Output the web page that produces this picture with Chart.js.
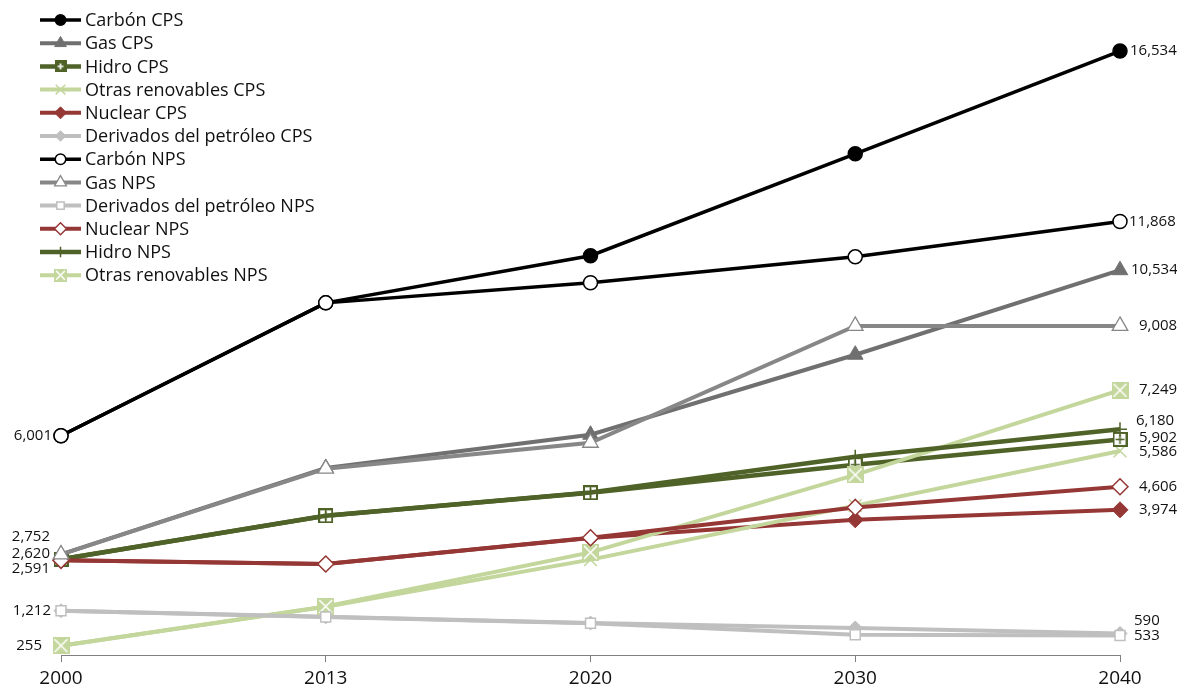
<!DOCTYPE html>
<html>
<head>
<meta charset="utf-8">
<script src="https://cdn.jsdelivr.net/npm/chart.js@4/dist/chart.umd.min.js"></script>
<style>
  html, body { margin: 0; padding: 0; background: #fff; }
  #wrap { width: 1177px; height: 689px; position: relative; }
</style>
</head>
<body>
<div id="wrap"><canvas id="c"></canvas></div>
<script>
// ---- Data ----
const categories = ['2000', '2013', '2020', '2030', '2040'];
const carbonCPS   = [6001, 9640, 10930, 13720, 16534];
const gasCPS      = [2752, 5120, 6030, 8220, 10534];
const hidroCPS    = [2620, 3810, 4440, 5210, 5902];
const otrasCPS    = [255, 1320, 2610, 4090, 5586];
const nuclearCPS  = [2591, 2490, 3200, 3700, 3974];
const derivCPS    = [1212, 1045, 875, 740, 590];
const carbonNPS   = [6001, 9640, 10190, 10900, 11868];
const gasNPS      = [2752, 5100, 5810, 9008, 9008];
const derivNPS    = [1212, 1040, 870, 555, 533];
const nuclearNPS  = [2591, 2490, 3210, 4040, 4606];
const hidroNPS    = [2620, 3810, 4450, 5430, 6180];
const otrasNPS    = [255, 1330, 2810, 4930, 7249];

const seriesNames = [
  'Carbón CPS', 'Gas CPS', 'Hidro CPS', 'Otras renovables CPS', 'Nuclear CPS',
  'Derivados del petróleo CPS', 'Carbón NPS', 'Gas NPS', 'Derivados del petróleo NPS',
  'Nuclear NPS', 'Hidro NPS', 'Otras renovables NPS'
];

// ---- Styles ----
const C_BLACK = '#000000', C_GAS = '#707070', C_GAS2 = '#878787', C_HID = '#4f6228',
      C_OTR = '#c3d69b', C_NUC = '#953735', C_DER = '#bfbfbf';

function makeBoxPlus(size, color, filled) {
  const c = document.createElement('canvas'); c.width = size; c.height = size;
  const x = c.getContext('2d');
  x.fillStyle = filled ? color : '#fff'; x.fillRect(0, 0, size, size);
  x.strokeStyle = color; x.lineWidth = 2;
  x.strokeRect(1, 1, size - 2, size - 2);
  x.strokeStyle = filled ? '#fff' : color;
  x.lineWidth = 1.6;
  x.beginPath(); x.moveTo(size / 2, 3); x.lineTo(size / 2, size - 3);
  x.moveTo(3, size / 2); x.lineTo(size - 3, size / 2); x.stroke();
  return c;
}
function makeBoxX(size, color) {
  const c = document.createElement('canvas'); c.width = size; c.height = size;
  const x = c.getContext('2d');
  x.fillStyle = color; x.fillRect(0, 0, size, size);
  x.strokeStyle = '#fff'; x.lineWidth = 1.6;
  x.beginPath(); x.moveTo(2, 2); x.lineTo(size - 2, size - 2);
  x.moveTo(size - 2, 2); x.lineTo(2, size - 2); x.stroke();
  return c;
}
const boxPlus = makeBoxPlus(15, C_HID, false);
const boxPlusLegend = makeBoxPlus(12, C_HID, true);
const boxX = makeBoxX(17, C_OTR);
const boxXLegend = makeBoxX(13, C_OTR);

function ds(label, data, color, width, style, radius, fill, pbColor, pbWidth, order) {
  return {
    label, data, borderColor: color, backgroundColor: color, borderWidth: width,
    pointStyle: style, pointRadius: radius, pointHoverRadius: radius,
    pointBackgroundColor: fill, pointBorderColor: pbColor, pointBorderWidth: pbWidth,
    tension: 0, fill: false, order
  };
}

const datasets = [
  ds(seriesNames[0], carbonCPS, C_BLACK, 3.5, 'circle', 7, C_BLACK, C_BLACK, 1.5, 2),
  ds(seriesNames[1], gasCPS, C_GAS, 4, 'triangle', 9, C_GAS, C_GAS, 1, 2),
  ds(seriesNames[2], hidroCPS, C_HID, 4.5, boxPlus, 7, C_HID, C_HID, 1, 2),
  ds(seriesNames[3], otrasCPS, C_OTR, 4, 'crossRot', 9, C_OTR, C_OTR, 1.5, 2),
  ds(seriesNames[4], nuclearCPS, C_NUC, 4, 'rectRot', 8, C_NUC, C_NUC, 1, 2),
  ds(seriesNames[5], derivCPS, C_DER, 4, 'rectRot', 7, C_DER, C_DER, 1, 2),
  ds(seriesNames[6], carbonNPS, C_BLACK, 3.5, 'circle', 7, '#ffffff', C_BLACK, 1.5, 1),
  ds(seriesNames[7], gasNPS, C_GAS2, 4, 'triangle', 9, '#ffffff', C_GAS2, 1.3, 1),
  ds(seriesNames[8], derivNPS, C_DER, 4, 'rect', 7, '#ffffff', C_DER, 1.5, 1),
  ds(seriesNames[9], nuclearNPS, C_NUC, 4, 'rectRot', 8, '#ffffff', C_NUC, 1.5, 1),
  ds(seriesNames[10], hidroNPS, C_HID, 4.5, 'cross', 7, C_HID, C_HID, 1.5, 1),
  ds(seriesNames[11], otrasNPS, C_OTR, 4, boxX, 8, C_OTR, C_OTR, 1, 1)
];
const legendImages = { 2: boxPlusLegend, 11: boxXLegend };

// Label placement (style only): dataset index -> [dx, dy]
const leftLabelOffsets = { 0: [-9, 0], 1: [-11, -18], 2: [-11, -6], 4: [-11, 8], 5: [-10, 0], 3: [-19, 0] };
const rightLabelOffsets = {
  0: [10, 0], 6: [9, 0], 1: [11, 0], 7: [19, 0], 11: [19, 0], 10: [16, -9],
  2: [19, -2], 3: [19, 1], 9: [19, 0], 4: [19, 0], 5: [14, -13], 8: [14, 0]
};

const FONT = '"Open Sans", "DejaVu Sans", sans-serif';

const valueLabels = {
  id: 'valueLabels',
  afterDatasetsDraw(chart) {
    const ctx = chart.ctx;
    ctx.save();
    ctx.font = '15px ' + FONT;
    ctx.fillStyle = '#111';
    ctx.textBaseline = 'middle';
    const fmt = v => v.toLocaleString('en-US');
    Object.keys(leftLabelOffsets).forEach(k => {
      const i = +k, off = leftLabelOffsets[k];
      const pt = chart.getDatasetMeta(i).data[0];
      ctx.textAlign = 'right';
      ctx.fillText(fmt(chart.data.datasets[i].data[0]), pt.x + off[0], pt.y + off[1]);
    });
    Object.keys(rightLabelOffsets).forEach(k => {
      const i = +k, off = rightLabelOffsets[k];
      const d = chart.data.datasets[i].data;
      const pt = chart.getDatasetMeta(i).data[d.length - 1];
      ctx.textAlign = 'left';
      ctx.fillText(fmt(d[d.length - 1]), pt.x + off[0], pt.y + off[1]);
    });
    ctx.restore();
  }
};

const customLegend = {
  id: 'customLegend',
  afterDraw(chart) {
    const ctx = chart.ctx;
    const x0 = 40, x1 = 81, tx = 85, y0 = 20, step = 23.2;
    ctx.save();
    chart.data.datasets.forEach((d, i) => {
      const y = y0 + i * step;
      ctx.strokeStyle = d.borderColor;
      ctx.lineWidth = d.borderWidth;
      ctx.beginPath(); ctx.moveTo(x0, y); ctx.lineTo(x1, y); ctx.stroke();
      ctx.fillStyle = d.pointBackgroundColor;
      ctx.strokeStyle = d.pointBorderColor;
      ctx.lineWidth = d.pointBorderWidth;
      Chart.helpers.drawPoint(ctx, {
        pointStyle: legendImages[i] || d.pointStyle, radius: d.pointRadius * 0.75, rotation: 0,
        borderWidth: d.pointBorderWidth
      }, (x0 + x1) / 2, y);
      ctx.fillStyle = '#111';
      ctx.font = '18px ' + FONT;
      ctx.textAlign = 'left';
      ctx.textBaseline = 'middle';
      ctx.fillText(d.label, tx, y + 1);
    });
    ctx.restore();
  }
};

new Chart(document.getElementById('c'), {
  type: 'line',
  data: { labels: categories, datasets },
  options: {
    responsive: true,
    maintainAspectRatio: false,
    animation: false,
    layout: { padding: { left: 61, right: 57, top: 34, bottom: 0 } },
    plugins: { legend: { display: false }, tooltip: { enabled: false } },
    scales: {
      x: {
        offset: false,
        afterFit(scale) { scale.height = 34; },
        grid: { display: true, drawOnChartArea: false, drawTicks: true, tickLength: 7, color: '#808080' },
        border: { display: true, color: '#808080', width: 1 },
        ticks: { color: '#111', font: { family: FONT, size: 19, lineHeight: 1.0 }, padding: 7, maxRotation: 0 }
      },
      y: { display: false, min: 0, max: 17000 }
    }
  },
  plugins: [valueLabels, customLegend]
});
</script>
</body>
</html>
